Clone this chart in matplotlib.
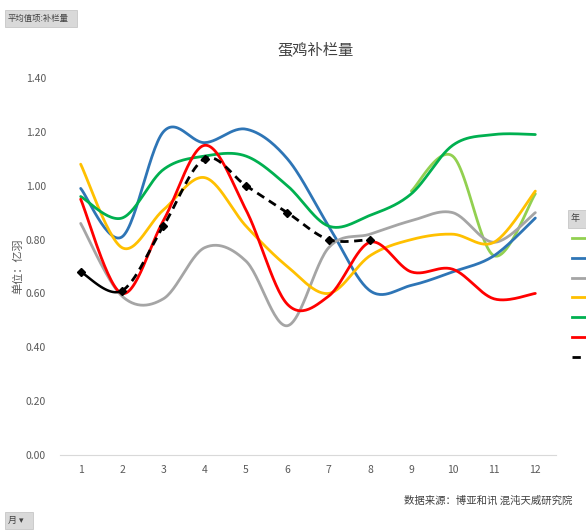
import numpy as np
import matplotlib.pyplot as plt
from matplotlib.patches import Rectangle
from matplotlib.lines import Line2D

plt.rcParams['font.family'] = ['Noto Sans CJK SC', 'DejaVu Sans']

# months on the x axis
months = [1, 2, 3, 4, 5, 6, 7, 8, 9, 10, 11, 12]

# restocking volume by year (unit: 100 million birds)
light_green = [None, None, None, None, None, None, None, None, 0.98, 1.11, 0.74, 0.97]
blue = [0.99, 0.81, 1.20, 1.16, 1.21, 1.10, 0.85, 0.61, 0.63, 0.68, 0.74, 0.88]
gray = [0.86, 0.59, 0.58, 0.77, 0.72, 0.48, 0.77, 0.82, 0.87, 0.90, 0.79, 0.90]
yellow = [1.08, 0.77, 0.91, 1.03, 0.85, 0.70, 0.60, 0.74, 0.80, 0.82, 0.79, 0.98]
green = [0.96, 0.88, 1.06, 1.11, 1.11, 1.00, 0.85, 0.89, 0.97, 1.15, 1.19, 1.19]
red = [0.95, 0.60, 0.87, 1.15, 0.91, 0.56, 0.59, 0.79, 0.68, 0.69, 0.58, 0.60]
black = [0.68, 0.61, 0.85, 1.10, 1.00, 0.90, 0.80, 0.80]

series = [
    (light_green, '#92D050'),
    (blue, '#2E75B6'),
    (gray, '#A5A5A5'),
    (yellow, '#FFC000'),
    (green, '#00B050'),
    (red, '#FF0000'),
]


def smooth(xs, ys, n=30):
    # Catmull-Rom style bezier smoothing, like Excel's smoothed lines
    xs = np.asarray(xs, float)
    ys = np.asarray(ys, float)
    px, py = [], []
    for i in range(len(xs) - 1):
        x0, y0 = (xs[i - 1], ys[i - 1]) if i > 0 else (xs[i], ys[i])
        x1, y1 = xs[i], ys[i]
        x2, y2 = xs[i + 1], ys[i + 1]
        x3, y3 = (xs[i + 2], ys[i + 2]) if i + 2 < len(xs) else (x2, y2)
        c1x, c1y = x1 + (x2 - x0) / 6, y1 + (y2 - y0) / 6
        c2x, c2y = x2 - (x3 - x1) / 6, y2 - (y3 - y1) / 6
        t = np.linspace(0, 1, n)
        a, b, c, d = (1 - t) ** 3, 3 * t * (1 - t) ** 2, 3 * t ** 2 * (1 - t), t ** 3
        px.extend(a * x1 + b * c1x + c * c2x + d * x2)
        py.extend(a * y1 + b * c1y + c * c2y + d * y2)
    return np.array(px), np.array(py)


fig = plt.figure(figsize=(5.86, 5.30), dpi=100)
ax = fig.add_axes([60 / 586, 75 / 530, 496 / 586, 377 / 530])

for vals, col in series:
    pts = [(m, v) for m, v in zip(months, vals) if v is not None]
    sx, sy = smooth([p[0] for p in pts], [p[1] for p in pts])
    ax.plot(sx, sy, color=col, lw=2.0, solid_capstyle='round')

# current year: dashed with diamond markers, first segment solid
bm = months[:len(black)]
sx, sy = smooth(bm, black)
ax.plot(sx[:30], sy[:30], color='black', lw=1.8)
ax.plot(sx[29:], sy[29:], color='black', lw=2.0, ls=(0, (3, 2)))
ax.plot(bm, black, ls='none', marker='D', ms=4.5, color='black')

ax.set_xlim(0.5, 12.5)
ax.set_ylim(0, 1.4)
ax.set_yticks(np.arange(0, 1.41, 0.2))
ax.set_yticklabels(['%.2f' % v for v in np.arange(0, 1.41, 0.2)])
ax.set_xticks(months)
for s in ['top', 'right', 'left']:
    ax.spines[s].set_visible(False)
ax.spines['bottom'].set_color('#D9D9D9')
ax.tick_params(axis='both', length=0, labelsize=7.5, colors='#595959')
ax.tick_params(axis='y', pad=10)
ax.tick_params(axis='x', pad=7)
ax.set_ylabel('单位：亿羽', fontsize=8, color='#595959', labelpad=2)

fig.text(316 / 586, 1 - 50 / 530, '蛋鸡补栏量', ha='center', va='center',
         fontsize=11, color='#404040')
fig.text(572 / 586, 1 - 501 / 530, '数据来源：博亚和讯 混沌天威研究院', ha='right',
         va='center', fontsize=7.5, color='#404040')

# pivot chart field buttons
fig.patches.append(Rectangle((5 / 586, 1 - 27 / 530), 72 / 586, 17 / 530,
                             transform=fig.transFigure, fc='#D9D9D9', ec='#BFBFBF', lw=0.5))
fig.text(8 / 586, 1 - 18.5 / 530, '平均值项:补栏量', fontsize=6, va='center', color='#404040')
fig.patches.append(Rectangle((5 / 586, 1 - 529 / 530), 28 / 586, 17 / 530,
                             transform=fig.transFigure, fc='#D9D9D9', ec='#BFBFBF', lw=0.5))
fig.text(8 / 586, 1 - 520 / 530, '月 ▾', fontsize=6.5, va='center', color='#404040')

# legend (labels cut off at the right edge)
fig.patches.append(Rectangle((568 / 586, 1 - 228 / 530), 20 / 586, 18 / 530,
                             transform=fig.transFigure, fc='#D9D9D9', ec='#BFBFBF', lw=0.5))
fig.text(571 / 586, 1 - 219 / 530, '年', fontsize=6.5, va='center', color='#404040')
for i, (vals, col) in enumerate(series):
    yy = 1 - (238 + i * 19.8) / 530
    fig.lines.append(Line2D([572 / 586, 588 / 586], [yy, yy], transform=fig.transFigure,
                            color=col, lw=2.0))
yy = 1 - (238 + 6 * 19.8) / 530
fig.lines.append(Line2D([572 / 586, 588 / 586], [yy, yy], transform=fig.transFigure,
                        color='black', lw=2.0, ls=(0, (3, 2))))

fig.savefig('out.png', dpi=100)
